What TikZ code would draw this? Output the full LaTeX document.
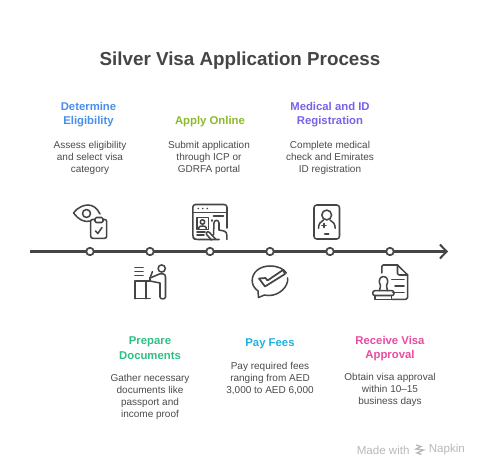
\documentclass[tikz,border=0pt]{standalone}
\usepackage{fontspec}
\setmainfont{Liberation Sans}
\usetikzlibrary{arrows.meta}
\definecolor{ink}{HTML}{454545}
\definecolor{cblue}{HTML}{4A8FE7}
\definecolor{colive}{HTML}{8DB92E}
\definecolor{cpurple}{HTML}{7B61E8}
\definecolor{cgreen}{HTML}{2FBF85}
\definecolor{ccyan}{HTML}{1FB2DE}
\definecolor{cpink}{HTML}{E84C9F}
\definecolor{cbody}{HTML}{4A4A4A}
\definecolor{cmark}{HTML}{B8B8B8}
\tikzset{
 x=0.75pt,y=-0.75pt,
 icon/.style={draw=ink,line width=1.15pt,line cap=round,line join=round},
 dotnode/.style={circle,draw=ink,fill=white,line width=1.3pt,minimum size=5.6pt,inner sep=0pt},
 head/.style={font=\fontsize{8.5pt}{11pt}\selectfont\bfseries,align=center,inner sep=0pt},
 body/.style={font=\fontsize{7.5pt}{9pt}\selectfont,text=cbody,align=center,inner sep=0pt},
}
\begin{document}
\begin{tikzpicture}
\useasboundingbox (0,0) rectangle (480,468);
\node[font=\fontsize{14.1pt}{18pt}\selectfont\bfseries,text=ink,inner sep=0pt] (title) at (240,60.5) {Silver Visa Application Process};
% timeline
\coordinate (start) at (30,251.5);
\coordinate (end) at (448,251.5);
\draw[draw=ink,line width=1.6pt,-{Straight Barb[length=5pt,width=10.5pt,line width=1.5pt]}] (start) -- (end);
\foreach \n/\x in {a/90,b/150,c/210,d/270,e/330,f/390}{\node[dotnode] (\n) at (\x,251.5) {};}
% headings and bodies
\node[head,text=cblue] (h1) at (88.5,114.7) {Determine\\Eligibility};
\node[body] (t1) at (90,158) {Assess eligibility\\and select visa\\category};
\node[head,text=colive] (h2) at (210,121.2) {Apply Online};
\node[body] (t2) at (209,158) {Submit application\\through ICP or\\GDRFA portal};
\node[head,text=cpurple] (h3) at (330,114.7) {Medical and ID\\Registration};
\node[body] (t3) at (330,158) {Complete medical\\check and Emirates\\ID registration};
\node[head,text=cgreen] (h4) at (150,348) {Prepare\\Documents};
\node[body] (t4) at (150,397) {Gather necessary\\documents like\\passport and\\income proof};
\node[head,text=ccyan] (h5) at (270,343.5) {Pay Fees};
\node[body] (t5) at (270,378.5) {Pay required fees\\ranging from AED\\3,000 to AED 6,000};
\node[head,text=cpink] (h6) at (390,348.7) {Receive Visa\\Approval};
\node[body] (t6) at (390,390.2) {Obtain visa approval\\within 10–15\\business days};
% eye and clipboard
\draw[icon] (90.5,221) .. controls (84,223) and (78,219) .. (73.5,213) .. controls (78,207) and (84,205) .. (88,205) .. controls (93,205) and (97,208) .. (100,214);
\draw[icon] (86.5,213.5) circle (4);
\draw[icon] (95,219.5) -- (92.5,219.5) .. controls (91,219.5) and (90.7,220.5) .. (90.7,221.5) -- (90.7,236) .. controls (90.7,237.5) and (91.5,238.3) .. (93,238.3) -- (104.5,238.3) .. controls (106,238.3) and (106.7,237.5) .. (106.7,236) -- (106.7,221.5) .. controls (106.7,220.5) and (106,219.5) .. (104.5,219.5) -- (103,219.5);
\draw[icon,rounded corners=1pt] (95,217.5) rectangle (103,222.5);
\draw[icon] (95.5,231) -- (97.8,233.5) -- (102,227.5);
% browser
\draw[icon,rounded corners=2pt] (219,239.5) -- (195,239.5) -- (192.8,237.5) -- (192.8,204.5) -- (227,204.5) -- (227,228);
\draw[icon] (192.8,212.7) -- (227,212.7);
\foreach \x in {198.3,202.8,207.3}{\fill[ink] (\x,208.5) circle (0.9);}
\draw[icon] (196.8,217.5) rectangle (208.3,229.3);
\draw[icon] (202.5,222) circle (2.2);
\draw[icon] (198.8,229) -- (198.8,227.5) .. controls (199,225.5) and (206,225.5) .. (206.2,227.5) -- (206.2,229);
\draw[icon] (197,232) -- (205,232) (197,235) -- (204,235);
\draw[icon] (213.5,216) -- (223.5,216);
\draw[icon] (212,220) -- (212,221);
\draw[icon] (215.5,239) -- (209.5,232.5) .. controls (207.5,230.5) and (205,233) .. (207,235) -- (211.5,240) (213.5,234.5) -- (214,223) .. controls (214,219.5) and (219,219.5) .. (219,223) -- (219,230) -- (224,231) .. controls (226,231.5) and (226.8,233) .. (226.8,235) -- (226.8,239.5);
% desk and person
\draw[icon] (135,267.7) -- (143,267.7) (135,271.7) -- (143,271.7) (135,275.7) -- (143,275.7);
\draw[icon] (161.7,268.5) circle (3.6);
\draw[icon] (135,298.7) -- (135,281) -- (150,281);
\draw[icon] (135,298.7) -- (150,298.7);
\draw[icon] (146,281) -- (146,298.7);
\draw[icon] (150,281) -- (150,278) -- (160,273.8) -- (163,273.8) .. controls (164.5,273.8) and (165.5,275) .. (165.5,277) -- (165.5,297) .. controls (165.5,299.5) and (160,299.5) .. (160,297) -- (160,283) -- (150,281);
\draw[icon] (150,278) -- (152.5,271.5);
% chat bubble
\draw[icon] (258.5,297.5) -- (258,291) .. controls (254,288) and (252.2,284.5) .. (252.2,280.5) .. controls (252.2,272) and (260,266) .. (270,266) .. controls (278,266) and (284,269) .. (286.3,273) (287.7,278) .. controls (288.5,287) and (279,295.5) .. (269,295.5) .. controls (267,295.5) and (265.5,295.2) .. (264.5,295) -- (258.5,297.5);
\draw[icon,line width=1.3pt] (259,278.5) -- (265.5,278) -- (267.5,280.5) -- (283,270) -- (285,274) -- (265,286.5) -- (259,278.5);
% medical card
\draw[icon,rounded corners=2pt] (314,205) rectangle (339.5,239);
\draw[icon] (326.7,215) circle (4.9);
\draw[icon] (318.5,228.3) .. controls (318.5,224) and (320.5,221.5) .. (323.5,220) (330,220) .. controls (333,221.5) and (335.2,224) .. (335.2,228.3);
\draw[icon] (324,223.5) -- (324,227.5) (322,225.5) -- (326,225.5);
\draw[icon] (324.7,234) -- (328.7,234);
% document and stamp
\draw[icon] (381.8,273) -- (381.8,266.5) .. controls (381.8,265.5) and (382.2,265) .. (383.2,265) -- (397.5,265) -- (407.7,275) -- (407.7,297.5) .. controls (407.7,298.7) and (407,299.3) .. (406,299.3) -- (392,299.3);
\draw[icon] (397.5,265) -- (397.5,273) .. controls (397.5,274.5) and (398.5,275) .. (399.5,275) -- (407.7,275);
\draw[icon] (391.7,279.3) -- (404,279.3) (395,286) -- (404,286) (392.7,292.7) -- (404,292.7);
\draw[icon] (379.5,290.7) .. controls (379.5,287.5) and (381,287) .. (380.5,285.5) .. controls (378,281.5) and (379.5,276.5) .. (383.5,276.5) .. controls (387.5,276.5) and (389,281.5) .. (386.5,285.5) .. controls (386,287) and (387.5,287.5) .. (387.5,290.7);
\draw[icon,rounded corners=1.5pt] (372.8,290.7) -- (394,290.7) -- (394,295.5) -- (372.8,295.5) -- cycle;
\draw[icon] (375,295.5) -- (375,299.3) -- (391.7,299.3) -- (391.7,295.5);
% watermark
\node[font=\fontsize{8.7pt}{10pt}\selectfont,text=cmark,inner sep=0pt,anchor=west] (made) at (356.5,450) {Made with};
\node[font=\fontsize{8.7pt}{10pt}\selectfont,text=cmark,inner sep=0pt,anchor=west] (napkin) at (428.5,450) {Napkin};
\draw[draw=cmark,line width=1pt] (416,445) -- (421,446.5) -- (416,449) -- (423.5,450) -- (417,453) -- (421.5,454.5);
\end{tikzpicture}
\end{document}
